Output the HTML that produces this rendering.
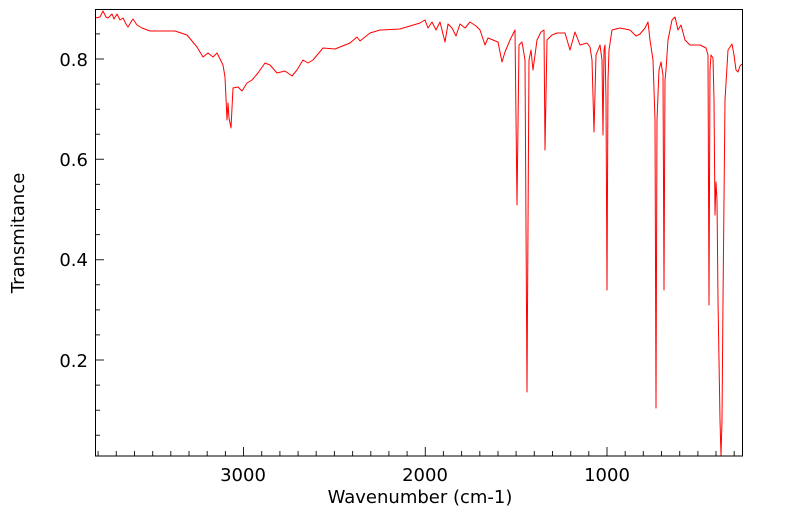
<!DOCTYPE html>
<html><head><style>body{margin:0;background:#fff}svg{display:block}text{font-family:"DejaVu Sans","Liberation Sans",sans-serif;fill:#000}</style></head><body>
<svg width="799" height="516" viewBox="0 0 799 516">
<path stroke="#222" stroke-width="1" fill="none" d="
M734.2,456v-5M716,456v-5M697.9,456v-5M679.7,456v-5M661.5,456v-5M643.3,456v-5M625.2,456v-5M607,456v-9M588.8,456v-5M570.7,456v-5M552.5,456v-5M534.3,456v-5M516.1,456v-5M498,456v-5M479.8,456v-5M461.6,456v-5M443.4,456v-5M425.3,456v-9M407.1,456v-5M388.9,456v-5M370.8,456v-5M352.6,456v-5M334.4,456v-5M316.2,456v-5M298.1,456v-5M279.9,456v-5M261.7,456v-5M243.5,456v-9M225.4,456v-5M207.2,456v-5M189,456v-5M170.8,456v-5M152.7,456v-5M134.5,456v-5M116.3,456v-5M98.1,456v-5
M95,435.3h5M95,410.2h5M95,385.1h5M95,360h9M95,334.9h5M95,309.9h5M95,284.8h5M95,259.7h9M95,234.6h5M95,209.5h5M95,184.4h5M95,159.3h9M95,134.3h5M95,109.2h5M95,84.1h5M95,59h9M95,33.9h5"/>
<polyline fill="none" stroke="#f00" stroke-width="1" stroke-linejoin="round" points="95,18 100,17 103,11 106,17 108,18 112,14 114,19 117,14 120,20 123,18 126,24 128,27 131,22 133,19 137,25 142,28 150,31 175,31 187,35 197,47 203,57 208,53 213,57 217,53 223,65 225,77 227,120 228,103 229,118 231,128 233,88 238,87 242,91 247,83 252,80 258,73 265,63 270,65 277,73 285,71 292,76 297,70 303,60 308,63 313,60 323,48 335,49 350,43 357,37 360,41 370,33 380,30 400,29 410,26 420,23 425,20 428,28 432,22 436,30 440,22 445,42 448,24 452,28 456,36 460,24 465,28 470,22 476,26 480,30 485,45 488,38 493,40 498,42 502,62 505,52 510,40 515,30 517,205 519,45 522,42 525,60 527,392 529,60 531,50 533,70 537,40 541,32 544,30 545,150 547,40 552,35 557,33 565,33 570,50 575,32 580,45 587,43 590,47 592,60 594,132 596,55 600,45 602,60 603,135 604,50 605,45 606,100 607,290 608,80 609,50 612,30 620,28 630,30 636,36 640,34 645,28 648,22 650,40 653,60 655,120 656,408 657,120 659,70 661,62 663,75 664,290 665,80 666,70 668,40 672,20 675,17 678,30 681,25 685,40 690,45 700,45 706,48 708,55 709,305 710,70 711,55 713,58 714,100 715,215 716,182 717,200 718,300 720,420 721,456 722,420 723,300 725,100 728,50 732,44 734,55 736,70 738,72 740,66 742,64"/>
<rect x="95.5" y="9.5" width="647" height="446.5" fill="none" stroke="#000" stroke-width="1"/>
<g font-size="18">
<text x="88" y="66" text-anchor="end">0.8</text>
<text x="88" y="166" text-anchor="end">0.6</text>
<text x="88" y="266" text-anchor="end">0.4</text>
<text x="88" y="367" text-anchor="end">0.2</text>
<text x="243" y="481" text-anchor="middle">3000</text>
<text x="425" y="481" text-anchor="middle">2000</text>
<text x="607" y="481" text-anchor="middle">1000</text>
<text x="420" y="503" text-anchor="middle">Wavenumber (cm-1)</text>
<text transform="translate(24,233) rotate(-90)" text-anchor="middle">Transmitance</text>
</g>
</svg>
</body></html>
